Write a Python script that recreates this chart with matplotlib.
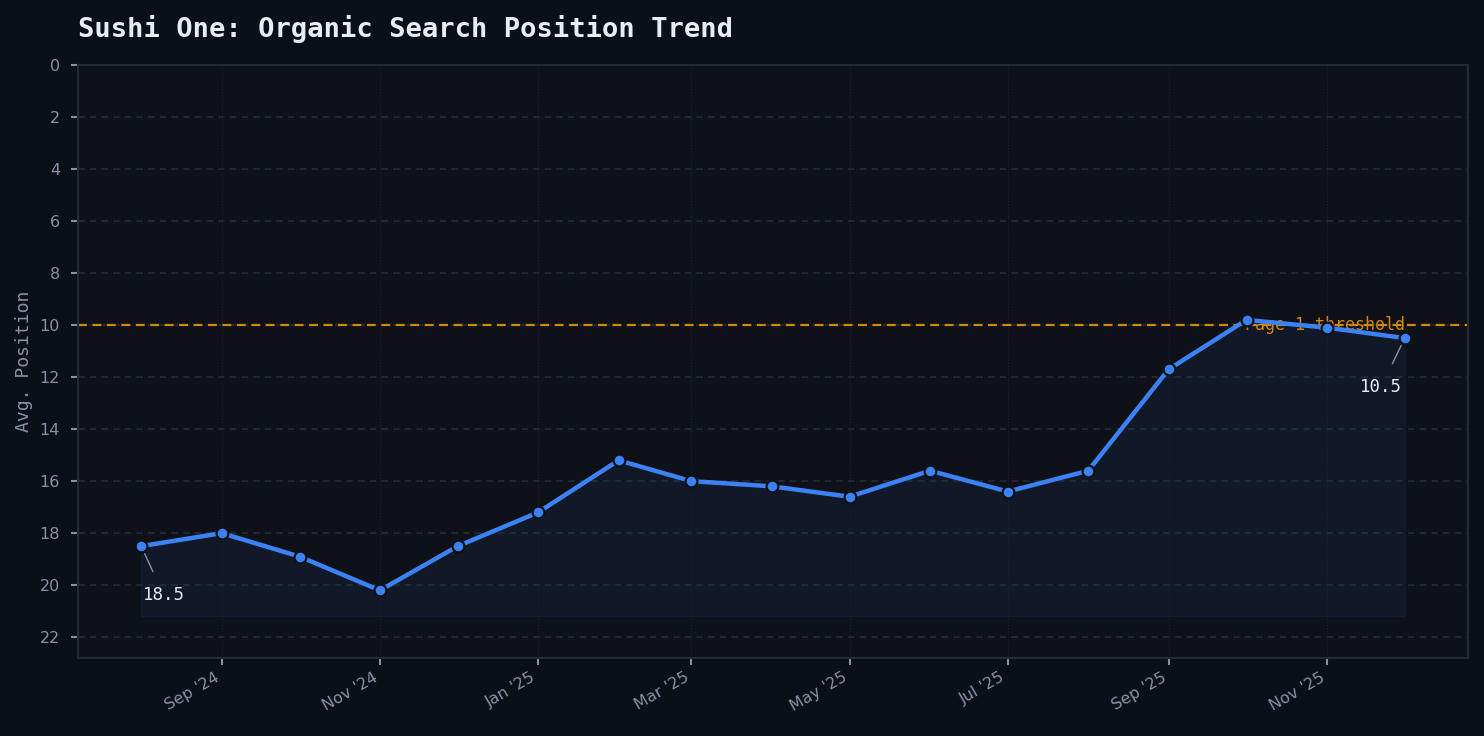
import matplotlib
matplotlib.use("Agg")
import matplotlib.pyplot as plt
import matplotlib.dates as mdates
import numpy as np
import pandas as pd

# monthly average search position
months = pd.date_range("2024-08-01", "2025-12-01", freq="MS")
positions = [18.5, 18.0, 18.9, 20.2, 18.5, 17.2, 15.2, 16.0, 16.2,
             16.6, 15.6, 16.4, 15.6, 11.7, 9.8, 10.1, 10.5]
threshold = 10
y_ticks = list(range(0, 23, 2))

fig_bg = "#0b0f17"
ax_bg = "#0e1118"
blue = "#3b82f6"
orange = "#d4860f"
muted = "#8592a6"
grid_c = "#222c3b"

fig = plt.figure(figsize=(14.84, 7.36), dpi=100, facecolor=fig_bg)
ax = fig.add_axes([0.0526, 0.106, 0.9366, 0.8057])
ax.set_facecolor(ax_bg)

y = np.array(positions)
ax.fill_between(months, y, y.max() + 1, color=blue, alpha=0.07, linewidth=1,
                edgecolor=(0.23, 0.51, 0.96, 0.10), zorder=1)
ax.plot(months, y, color=blue, linewidth=3.2, zorder=3,
        marker="o", markersize=8.5, markerfacecolor=blue,
        markeredgecolor=ax_bg, markeredgewidth=1.6)

ax.axhline(threshold, color=orange, linestyle=(0, (4, 2.5)), linewidth=1.6, zorder=2)
ax.text(months[-1], threshold, "Page 1 threshold", color=orange, ha="right",
        va="center", fontsize=12, family="DejaVu Sans Mono", zorder=2)

# first and last point labels
for i, dx in [(0, 16), (-1, -17)]:
    ax.annotate(f"{positions[i]:.1f}", xy=(months[i], positions[i]),
                xytext=(dx, -35), textcoords="offset points",
                ha="center", va="center", color="#e6edf3", fontsize=12.5,
                family="DejaVu Sans Mono",
                arrowprops=dict(arrowstyle="-", color="#8b949e", lw=1,
                                shrinkA=9, shrinkB=6), zorder=4)

ax.set_ylim(22.8, 0)
ax.set_yticks(y_ticks)
ax.xaxis.set_major_locator(mdates.MonthLocator(bymonth=[1, 3, 5, 7, 9, 11]))
ax.xaxis.set_major_formatter(mdates.DateFormatter("%b '%y"))
plt.setp(ax.get_xticklabels(), rotation=30, ha="right", rotation_mode="default")

ax.tick_params(colors=muted, labelsize=11.5, length=5, width=1.5)
ax.tick_params(axis="y", pad=8)
ax.grid(axis="y", color=grid_c, linestyle=(0, (4, 3)), linewidth=1.2)
ax.grid(axis="x", color="#1a2230", linestyle=":", linewidth=0.8)
for s in ax.spines.values():
    s.set_color("#222b3a")
    s.set_linewidth(1.5)

ax.set_ylabel("Avg. Position", color=muted, fontsize=13,
              family="DejaVu Sans Mono", labelpad=5)
ax.set_title("Sushi One: Organic Search Position Trend", loc="left",
             color="#e6edf3", fontsize=19.5, fontweight="bold",
             family="DejaVu Sans Mono", pad=20)

fig.savefig("out.png", dpi=100, facecolor=fig_bg)
